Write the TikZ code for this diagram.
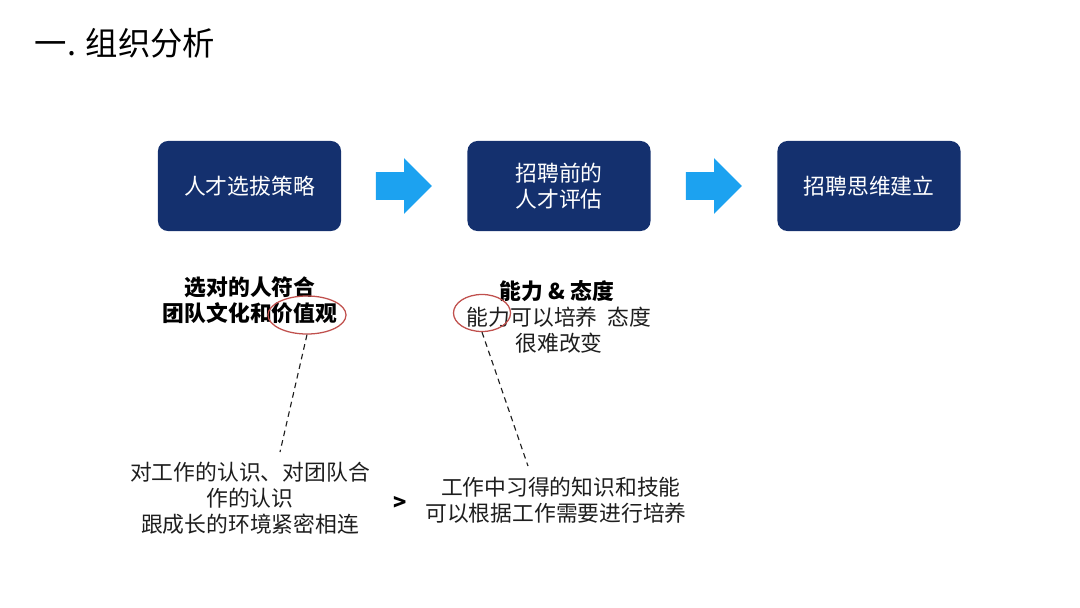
\documentclass[tikz,border=0pt]{standalone}
\usepackage{fontspec}
\setmainfont{Noto Sans CJK SC}
\usepackage{tikz}
\usetikzlibrary{arrows.meta,positioning,shapes.geometric,shapes.arrows}
\definecolor{navy}{RGB}{20,48,110}
\definecolor{flowblue}{RGB}{28,162,240}
\definecolor{ringred}{RGB}{192,80,77}
\definecolor{inkgray}{RGB}{30,30,30}
\tikzset{
    stagebox/.style={fill=navy, rounded corners=0.25cm, minimum width=4.575cm, minimum height=2.25cm,
        text=white, align=center, font=\fontsize{15.5pt}{18.4pt}\selectfont},
    flowarrow/.style={single arrow, fill=flowblue, inner xsep=0pt, inner ysep=0.3375cm,
        single arrow head extend=0.35cm, minimum height=1.4cm, font=\tiny},
    markring/.style={ellipse, draw=ringred, line width=0.9pt, inner sep=0pt},
    pointer/.style={draw=inkgray, dashed, dash pattern=on 4pt off 3pt, line width=0.8pt},
    note/.style={align=center, text=inkgray, font=\fontsize{15.5pt}{18.4pt}\selectfont},
    keynote/.style={note, text=black, font=\fontsize{15.5pt}{18.4pt}\selectfont\bfseries}
}
\begin{document}
\begin{tikzpicture}[x=0.025cm, y=-0.025cm]
    \useasboundingbox (0,0) rectangle (1080,607);
    \node[anchor=west, font=\fontsize{23pt}{26pt}\selectfont] (title) at (30,43) {一. 组织分析};
    % three stages
    \node[stagebox] (select) at (249.5,186) {人才选拔策略};
    \node[stagebox] (assess) at (559,186) {招聘前的\\人才评估};
    \node[stagebox] (mindset) at (869,186) {招聘思维建立};
    \node[flowarrow] (step1) at (397,186) {};
    \node[flowarrow] (step2) at (707,186) {};
    % notes below
    \node[keynote] (fitA) at (250,300) {选对的人符合\\团队文化和价值观};
    \node[keynote] (headB) at (557,291) {能力 \& 态度};
    \node[note] (fitB) at (559,330) {能力可以培养\ \ 态度\\很难改变};
    \node[markring, minimum width=1.95cm, minimum height=0.95cm] (ring1) at (307,315) {};
    \node[markring, minimum width=1.425cm, minimum height=0.925cm] (ring2) at (482,313) {};
    \node[note] (valueC) at (250,498) {对工作的认识、对团队合\\作的认识\\跟成长的环境紧密相连};
    \node[keynote] (gt) at (400,503) {>};
    \node[note] (skillD) at (556,500) {\ \ 工作中习得的知识和技能\\可以根据工作需要进行培养};
    \coordinate (tip1) at (280,452);
    \coordinate (tip2) at (528,466);
    \draw[pointer] (ring1.south) -- (tip1);
    \draw[pointer] (ring2.south) -- (tip2);
\end{tikzpicture}
\end{document}
